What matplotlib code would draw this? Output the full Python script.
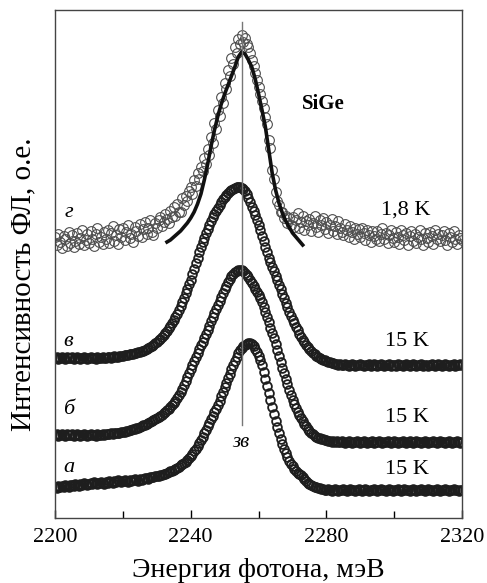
import numpy as np
import matplotlib
matplotlib.use('Agg')
import matplotlib.pyplot as plt

plt.rcParams['font.family'] = ['Liberation Serif', 'DejaVu Serif']

# энергия фотона, мэВ (шаг 0.5)
energy = np.arange(2200, 2320.5, 0.5)

# спектр а, 15 K
spec_a = [31, 30, 32, 31, 32, 31, 33, 32, 31, 33,
          33, 32, 34, 33, 32, 34, 33, 35, 34, 33,
          34, 35, 34, 36, 35, 34, 35, 36, 35, 34,
          36, 35, 37, 36, 35, 37, 36, 38, 37, 36,
          37, 38, 37, 36, 38, 37, 38, 39, 38, 37,
          39, 38, 39, 40, 40, 39, 41, 41, 41, 42,
          42, 42, 43, 43, 44, 44, 45, 46, 47, 47,
          48, 49, 50, 51, 53, 54, 55, 56, 58, 60,
          62, 64, 67, 69, 72, 75, 78, 81, 85, 88,
          92, 95, 99, 102, 106, 109, 113, 117, 122, 126,
          131, 135, 140, 144, 149, 153, 157, 161, 165, 168,
          170, 172, 173, 174, 175, 175, 174, 172, 169, 166,
          162, 158, 153, 146, 139, 132, 125, 118, 111, 104,
          97, 91, 85, 79, 74, 69, 65, 61, 57, 54,
          52, 49, 47, 45, 44, 43, 41, 39, 37, 35,
          34, 33, 32, 31, 31, 30, 30, 29, 29, 28,
          28, 29, 28, 27, 28, 29, 28, 27, 28, 28,
          29, 28, 27, 28, 29, 28, 28, 27, 28, 29,
          28, 27, 28, 29, 28, 27, 28, 28, 29, 28,
          27, 28, 29, 28, 28, 27, 28, 29, 28, 27,
          28, 28, 29, 28, 27, 28, 29, 28, 28, 27,
          28, 29, 28, 27, 28, 28, 29, 28, 27, 28,
          29, 28, 28, 27, 28, 29, 28, 27, 28, 28,
          29, 28, 27, 28, 28, 29, 28, 28, 27, 28,
          28]

# спектр б, 15 K
spec_b = [83, 84, 82, 83, 84, 83, 82, 84, 83, 83,
          84, 82, 83, 84, 83, 82, 83, 84, 83, 82,
          83, 84, 83, 83, 82, 84, 83, 83, 84, 83,
          84, 84, 84, 85, 84, 85, 85, 85, 85, 86,
          86, 86, 87, 87, 88, 88, 89, 89, 90, 90,
          91, 92, 93, 93, 94, 95, 96, 97, 98, 99,
          100, 101, 102, 103, 105, 106, 108, 109, 111, 113,
          115, 117, 120, 123, 126, 129, 133, 137, 141, 145,
          149, 153, 157, 161, 165, 169, 173, 176, 180, 184,
          188, 192, 197, 201, 205, 209, 213, 217, 221, 225,
          229, 232, 236, 239, 242, 244, 246, 247, 248, 248,
          248, 247, 245, 243, 241, 238, 235, 232, 229, 226,
          223, 220, 216, 211, 206, 201, 196, 190, 185, 180,
          174, 168, 162, 156, 150, 145, 139, 134, 128, 123,
          118, 114, 110, 106, 103, 100, 97, 94, 92, 89,
          87, 85, 84, 82, 81, 80, 80, 79, 79, 78,
          78, 77, 77, 76, 77, 76, 77, 76, 76, 77,
          76, 75, 76, 77, 76, 75, 76, 76, 77, 76,
          75, 76, 77, 76, 75, 76, 76, 77, 75, 76,
          76, 77, 76, 75, 76, 76, 77, 76, 75, 76,
          77, 76, 75, 76, 76, 77, 76, 75, 76, 77,
          76, 75, 76, 77, 76, 76, 75, 76, 77, 76,
          75, 76, 76, 77, 76, 75, 76, 77, 76, 76,
          75, 76, 77, 76, 75, 76, 76, 77, 76, 75,
          76]

# спектр в, 15 K
spec_v = [160, 161, 159, 160, 161, 160, 159, 161, 160, 160,
          161, 159, 160, 161, 160, 159, 160, 161, 160, 159,
          160, 161, 160, 160, 159, 161, 160, 160, 161, 160,
          160, 161, 161, 160, 161, 162, 161, 161, 162, 162,
          162, 163, 163, 163, 164, 164, 164, 165, 165, 166,
          166, 167, 167, 168, 169, 170, 171, 172, 173, 175,
          176, 178, 179, 181, 183, 185, 187, 190, 192, 195,
          198, 201, 204, 208, 212, 216, 220, 225, 229, 234,
          238, 244, 249, 255, 260, 266, 271, 276, 280, 285,
          289, 293, 297, 301, 304, 307, 310, 313, 316, 319,
          321, 323, 325, 327, 328, 329, 330, 331, 331, 331,
          330, 329, 327, 324, 320, 316, 311, 307, 303, 298,
          293, 288, 282, 277, 271, 266, 260, 256, 251, 247,
          242, 238, 233, 229, 224, 220, 215, 211, 206, 202,
          198, 195, 191, 188, 184, 181, 178, 176, 173, 171,
          169, 167, 165, 164, 162, 161, 160, 159, 158, 158,
          157, 156, 156, 155, 155, 154, 154, 153, 154, 153,
          153, 154, 153, 152, 153, 154, 153, 152, 153, 153,
          154, 153, 152, 153, 153, 154, 152, 153, 154, 153,
          152, 153, 154, 153, 152, 153, 153, 154, 152, 153,
          153, 152, 154, 153, 153, 152, 153, 154, 153, 152,
          153, 154, 153, 152, 153, 153, 154, 152, 153, 153,
          152, 153, 154, 153, 152, 153, 154, 153, 152, 153,
          154, 153, 152, 153, 153, 154, 152, 153, 153, 154,
          153]

# спектр г, 1,8 K
spec_g = [281, 273, 284, 276, 270, 282, 279, 272, 286, 275,
          283, 271, 277, 285, 274, 280, 288, 273, 278, 284,
          275, 287, 279, 272, 284, 290, 276, 281, 274, 286,
          279, 288, 275, 285, 292, 277, 283, 274, 289, 281,
          290, 278, 286, 293, 280, 284, 276, 291, 287, 282,
          294, 281, 289, 296, 284, 290, 298, 286, 283, 295,
          290, 298, 301, 292, 296, 304, 299, 295, 307, 301,
          311, 302, 314, 306, 306, 320, 313, 322, 317, 327,
          331, 324, 338, 332, 345, 339, 351, 347, 360, 354,
          369, 363, 381, 375, 395, 389, 408, 402, 421, 415,
          435, 429, 448, 442, 460, 454, 471, 465, 479, 474,
          483, 476, 480, 474, 471, 465, 458, 452, 445, 438,
          431, 424, 417, 410, 401, 394, 378, 370, 348, 339,
          326, 317, 313, 306, 306, 300, 302, 295, 300, 293,
          301, 291, 298, 305, 290, 296, 302, 288, 297, 293,
          299, 287, 295, 302, 291, 286, 298, 293, 300, 289,
          296, 285, 293, 299, 287, 292, 284, 297, 290, 286,
          283, 294, 288, 281, 292, 286, 279, 290, 284, 289,
          281, 290, 285, 278, 288, 283, 276, 287, 282, 279,
          287, 277, 284, 290, 279, 285, 275, 283, 288, 280,
          276, 286, 281, 274, 288, 283, 278, 285, 273, 282,
          287, 277, 284, 275, 281, 288, 279, 273, 285, 280,
          276, 286, 282, 274, 288, 279, 284, 277, 283, 287,
          278, 273, 285, 281, 276, 287, 279, 274, 283, 280,
          278]

# аппроксимация пика г
fit_energy = np.arange(2233, 2274, 1)
fit_g = [276, 278, 281, 284, 287, 291, 295, 300, 306, 314,
         324, 338, 354, 372, 388, 402, 414, 424, 433, 442,
         451, 461, 466, 464, 458, 451, 439, 424, 408, 391,
         368, 345, 328, 315, 305, 297, 291, 285, 281, 277,
         273]

e_zv = 2255  # положение линии зв

fig = plt.figure(figsize=(4.87, 5.83), dpi=100)
ax = fig.add_axes([0.113, 0.1115, 0.836, 0.8714])

for s in [spec_a, spec_b, spec_v]:
    ax.plot(energy, s, 'o', ms=6.3, mfc='none', mec='#1e1e1e', mew=1.3)
ax.plot(energy, spec_g, 'o', ms=7, mfc='none', mec='#4d4d4d', mew=0.8)
ax.plot(fit_energy, fit_g, '-', color='#111111', lw=2.6)

ax.plot([e_zv, e_zv], [93, 496], color='#777777', lw=1)

ax.text(2204, 305, 'г', style='italic', fontsize=16, ha='center', va='center')
ax.text(2204, 176, 'в', style='italic', fontsize=16, ha='center', va='center')
ax.text(2204, 108, 'б', style='italic', fontsize=16, ha='center', va='center')
ax.text(2204, 50, 'а', style='italic', fontsize=16, ha='center', va='center')
ax.text(2254.8, 75, 'зв', style='italic', fontsize=15, ha='center', va='center')
ax.text(2303.5, 308, '1,8 K', fontsize=16, ha='center', va='center')
ax.text(2303.8, 176, '15 K', fontsize=16, ha='center', va='center')
ax.text(2303.8, 100, '15 K', fontsize=16, ha='center', va='center')
ax.text(2303.8, 48, '15 K', fontsize=16, ha='center', va='center')
ax.text(2279, 414, 'SiGe', fontsize=15, fontweight='bold', ha='center', va='center')

ax.set_xlim(2200, 2320)
ax.set_ylim(0, 508)
ax.set_xticks([2200, 2240, 2280, 2320])
ax.set_xticks([2220, 2260, 2300], minor=True)
ax.set_yticks([])
ax.tick_params(axis='x', which='both', direction='in', width=1, labelsize=16, pad=7)
ax.tick_params(axis='x', which='major', length=6)
ax.tick_params(axis='x', which='minor', length=5)
for sp in ax.spines.values():
    sp.set_color('#444444')
    sp.set_linewidth(1)

ax.set_xlabel('Энергия фотона, мэВ', fontsize=20, labelpad=8)
ax.set_ylabel('Интенсивность ФЛ, о.е.', fontsize=21)
ax.yaxis.set_label_coords(-0.045, 0.46)

fig.savefig('out.png', dpi=100)
